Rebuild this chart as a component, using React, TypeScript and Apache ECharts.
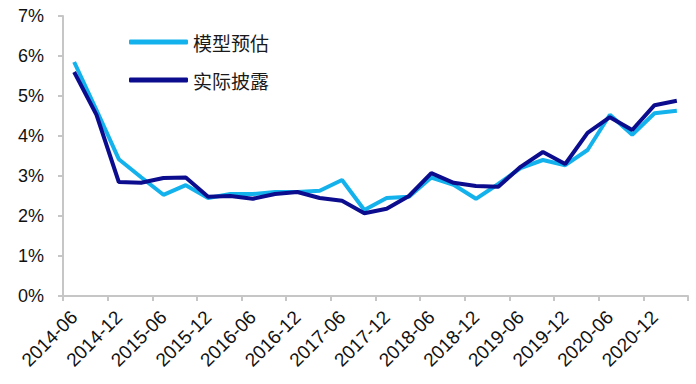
import React, { useEffect, useRef } from "react";
import * as echarts from "echarts";

const categories = [
  "2014-06", "2014-09", "2014-12", "2015-03", "2015-06", "2015-09", "2015-12",
  "2016-03", "2016-06", "2016-09", "2016-12", "2017-03", "2017-06", "2017-09",
  "2017-12", "2018-03", "2018-06", "2018-09", "2018-12", "2019-03", "2019-06",
  "2019-09", "2019-12", "2020-03", "2020-06", "2020-09", "2020-12", "2021-03",
];

const modelEstimate = [
  5.85, 4.65, 3.42, 2.97, 2.53, 2.77, 2.45, 2.55, 2.55, 2.6, 2.6, 2.63, 2.9, 2.15,
  2.45, 2.48, 2.96, 2.78, 2.43, 2.8, 3.2, 3.4, 3.27, 3.65, 4.53, 4.03, 4.57, 4.63,
];

const actualDisclosed = [
  5.6, 4.53, 2.85, 2.83, 2.95, 2.96, 2.48, 2.5, 2.43, 2.55, 2.6, 2.45, 2.38, 2.07,
  2.18, 2.5, 3.07, 2.83, 2.75, 2.73, 3.23, 3.6, 3.3, 4.08, 4.47, 4.15, 4.77, 4.88,
];

const seriesNames = ["模型预估", "实际披露"];
const yTicks = { min: 0, max: 7, interval: 1 };

export default function App() {
  const ref = useRef<HTMLDivElement>(null);
  useEffect(() => {
    if (!ref.current) return;
    const chart = echarts.init(ref.current, undefined, { renderer: "svg" });
    const axisColor = "#c6c6c6";
    chart.setOption({
      animation: false,
      backgroundColor: "#ffffff",
      grid: { left: 63, right: 8, top: 16, bottom: 88, containLabel: false },
      legend: {
        orient: "vertical",
        left: 124,
        top: 26,
        itemWidth: 59,
        itemHeight: 5,
        itemGap: 16,
        icon: "roundRect",
        data: seriesNames,
        textStyle: {
          fontFamily: "Noto Sans CJK SC",
          fontSize: 19,
          color: "#1a1a1a",
          lineHeight: 22,
        },
      },
      xAxis: {
        type: "category",
        data: categories,
        boundaryGap: true,
        axisLine: { lineStyle: { color: axisColor, width: 2 } },
        axisTick: { show: true, interval: 1, length: 5, lineStyle: { color: axisColor, width: 2 } },
        axisLabel: {
          interval: 1,
          rotate: 45,
          margin: 18,
          fontFamily: "Liberation Sans, Arial, sans-serif",
          fontSize: 19,
          color: "#111111",
        },
        splitLine: { show: false },
      },
      yAxis: {
        type: "value",
        min: yTicks.min,
        max: yTicks.max,
        interval: yTicks.interval,
        axisLine: { show: true, lineStyle: { color: axisColor, width: 2 } },
        axisTick: { show: true, length: 5, lineStyle: { color: axisColor, width: 2 } },
        axisLabel: {
          margin: 19,
          formatter: (v: number) => `${v}%`,
          fontFamily: "Liberation Sans, Arial, sans-serif",
          fontSize: 18,
          color: "#111111",
        },
        splitLine: { show: false },
      },
      series: [
        {
          name: seriesNames[0],
          type: "line",
          data: modelEstimate,
          symbol: "none",
          lineStyle: { color: "#14b2ec", width: 4 },
          itemStyle: { color: "#14b2ec" },
          z: 2,
        },
        {
          name: seriesNames[1],
          type: "line",
          data: actualDisclosed,
          symbol: "none",
          lineStyle: { color: "#0c0c8e", width: 4 },
          itemStyle: { color: "#0c0c8e" },
          z: 3,
        },
      ],
    });
    return () => chart.dispose();
  }, []);
  return <div ref={ref} style={{ width: 696, height: 384, position: "absolute", left: 0, top: 0 }} />;
}
